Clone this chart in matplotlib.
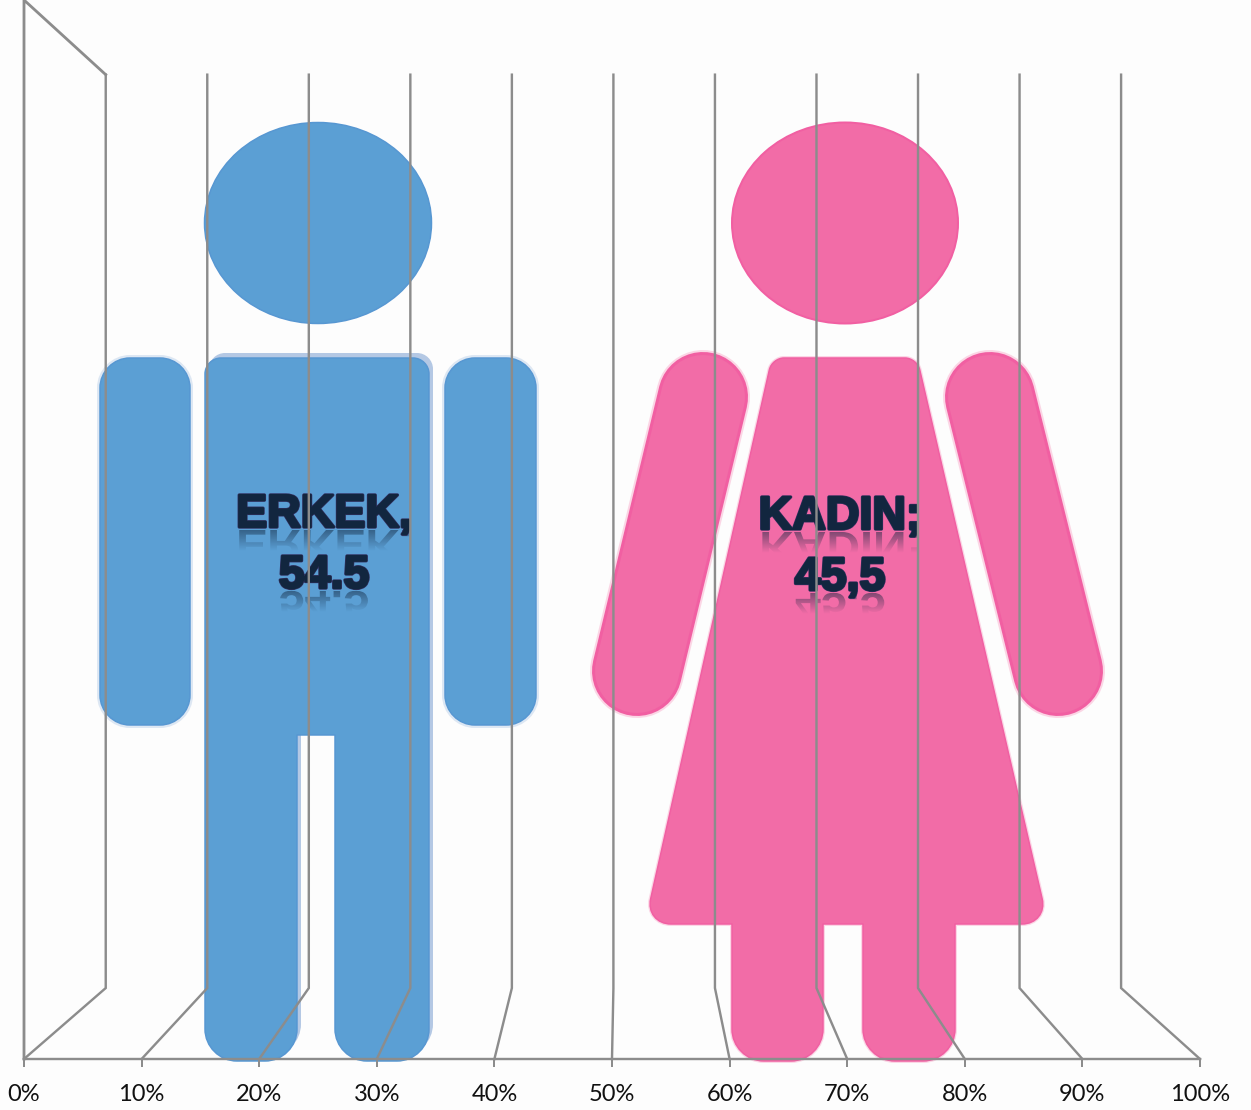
import numpy as np
import matplotlib
matplotlib.use('Agg')
import matplotlib.pyplot as plt
import matplotlib.patheffects as pe
from matplotlib.font_manager import FontProperties
from matplotlib.patches import Ellipse, PathPatch
from matplotlib.path import Path
from matplotlib.textpath import TextPath
from matplotlib.transforms import Affine2D

# chart values
categories = ['ERKEK', 'KADIN']
shares = [54.5, 45.5]
label_lines = [['ERKEK,', '54.5'], ['KADIN;', '45,5']]
tick_values = [0, 10, 20, 30, 40, 50, 60, 70, 80, 90, 100]
tick_labels = ['0%', '10%', '20%', '30%', '40%', '50%', '60%', '70%', '80%', '90%', '100%']

W, H = 1251, 1110
GRID = '#8c8c8c'
BG = '#fdfdfd'
BLUE = ('#5b9fd4', '#5797d2', '#dde7f3')
PINK = ('#f26ca7', '#f15fa2', '#fbd6e5')
INK = '#12263f'


def px(v):
    # pixels to points at dpi 100
    return v * 0.72


def rounded(verts):
    # closed path through (x, y, radius) corners
    n = len(verts)
    codes, pts = [], []
    for i in range(n):
        p = np.array(verts[i][:2], float)
        r = verts[i][2]
        a = np.array(verts[i-1][:2], float)
        b = np.array(verts[(i+1) % n][:2], float)
        u1 = (a-p) / np.linalg.norm(a-p)
        u2 = (b-p) / np.linalg.norm(b-p)
        start = p + u1*r
        end = p + u2*r
        pts.append(start)
        codes.append(Path.MOVETO if i == 0 else Path.LINETO)
        if r > 0:
            pts += [p + u1*r*0.45, p + u2*r*0.45, end]
            codes += [Path.CURVE4]*3
    pts.append(pts[0])
    codes.append(Path.CLOSEPOLY)
    return Path(np.array(pts), codes)


def draw_shape(ax, path, colors, halo_lw=6, shift=None, shift_color=None):
    fill, edge, halo = colors
    if shift is not None:
        moved = path.transformed(Affine2D().translate(*shift))
        ax.add_patch(PathPatch(moved, fc=shift_color, ec='none', zorder=1))
    if halo_lw > 0:
        ax.add_patch(PathPatch(path, fc=halo, ec=halo, lw=px(halo_lw), zorder=1.2))
    ax.add_patch(PathPatch(path, fc=fill, ec=edge, lw=px(1.5), zorder=2, joinstyle='round'))


def draw_capsule(ax, x0, y0, x1, y1, radius, colors):
    fill, edge, halo = colors
    for color, r, z in [(halo, radius+2, 1.2), (edge, radius, 1.5), (fill, radius-3, 2)]:
        ax.plot([x0, x1], [y0, y1], color=color, lw=px(2*r), solid_capstyle='round', zorder=z)


def draw_label(ax, x, baseline, line, font):
    txt = ax.text(x, baseline, line, ha='center', va='baseline', color=INK, fontproperties=font, zorder=6,
                  path_effects=[pe.withStroke(linewidth=2.4, foreground='#33305f'),
                                pe.withStroke(linewidth=1.5, foreground=INK)])
    # fading mirror image under the text
    tp = TextPath((0, 0), line, prop=font, size=font.get_size_in_points()/0.72)
    box = tp.get_extents()
    tr = Affine2D().translate(-box.width/2 - box.x0, 0).scale(1, 0.9).translate(x, baseline+3)
    clip = PathPatch(tp.transformed(tr), fc='none', ec='none', transform=ax.transData)
    ax.add_patch(clip)
    grad = np.zeros((32, 1, 4))
    grad[..., :3] = matplotlib.colors.to_rgb(INK)
    grad[..., 3] = np.linspace(0.5, 0.0, 32)[:, None]
    im = ax.imshow(grad, extent=(x-box.width/2-2, x+box.width/2+2, baseline+24, baseline+3),
                   aspect='auto', zorder=3, interpolation='bilinear')
    im.set_clip_path(clip)
    return txt


fig = plt.figure(figsize=(W/100, H/100), dpi=100, facecolor=BG)

# silhouettes, drawn in picture pixels under the chart frame
fig_ax = fig.add_axes([0, 0, 1, 1], zorder=1)
fig_ax.set_axis_off()

# man
fig_ax.add_patch(Ellipse((318, 223), 227, 201, fc=BLUE[0], ec=BLUE[1], lw=px(1.5), zorder=2))
for ax_x in [(100, 190), (445, 536)]:
    arm = rounded([(ax_x[0], 358, 30), (ax_x[1], 358, 30), (ax_x[1], 725, 30), (ax_x[0], 725, 30)])
    draw_shape(fig_ax, arm, BLUE, halo_lw=6)
body = rounded([(205, 358, 16), (429, 358, 16), (429, 1061, 32), (335, 1061, 32), (335, 735, 0),
                (297, 735, 0), (297, 1061, 32), (205, 1061, 32)])
draw_shape(fig_ax, body, BLUE, halo_lw=0, shift=(4, -5), shift_color='#b4c8e4')

# woman
fig_ax.add_patch(Ellipse((845, 223), 226, 201, fc=PINK[0], ec=PINK[1], lw=px(2), zorder=2))
draw_capsule(fig_ax, 703, 397, 637, 671, 45, PINK)
draw_capsule(fig_ax, 990, 397, 1058, 671, 45, PINK)
dress = rounded([(772, 358, 12), (917, 358, 12), (1048, 924, 26), (955, 924, 0), (955, 1061, 32),
                 (863, 1061, 32), (863, 924, 0), (823, 924, 0), (823, 1061, 32), (732, 1061, 32),
                 (732, 924, 0), (645, 924, 26)])
draw_shape(fig_ax, dress, PINK, halo_lw=4)

label_font = FontProperties(family='Liberation Sans', weight='bold', size=33.5)
label_pos = [(324, [527, 588]), (840, [529, 590])]
for lines, (lx, bases) in zip(label_lines, label_pos):
    for line, base in zip(lines, bases):
        draw_label(fig_ax, lx, base, line, label_font)

fig_ax.set_xlim(0, W)
fig_ax.set_ylim(H, 0)

# percent axis with its 3D style walls
ax = fig.add_axes([24/W, (H-1059)/H, 1176/W, 1059/H], zorder=2)
ax.patch.set_alpha(0)
ax.set_xlim(0, 100)
ax.set_ylim(0, 1)
for name in ['top', 'right', 'left']:
    ax.spines[name].set_visible(False)
ax.spines['bottom'].set_color(GRID)
ax.spines['bottom'].set_linewidth(px(2.4))
ax.set_yticks([])
ax.set_xticks(tick_values)
ax.set_xticklabels(tick_labels, fontfamily='Lato', fontsize=17, color='#111111')
ax.tick_params(axis='x', length=px(8), width=px(2), color=GRID, pad=12)

depth_x, depth_scale = 6.95, 0.8634
back_floor, back_top = 0.067, 0.9295
for tv in tick_values:
    back = depth_x + tv*depth_scale
    ax.plot([tv, back, back], [0, back_floor, back_top], color=GRID, lw=px(2.4), clip_on=False,
            solid_joinstyle='miter', zorder=5)
# corner of the wall
ax.plot([0, 0, depth_x], [0, 1, back_top], color=GRID, lw=px(2.8), clip_on=False,
        solid_joinstyle='miter', zorder=5)

plt.savefig('out.png', dpi=100, facecolor=BG)
plt.close()
